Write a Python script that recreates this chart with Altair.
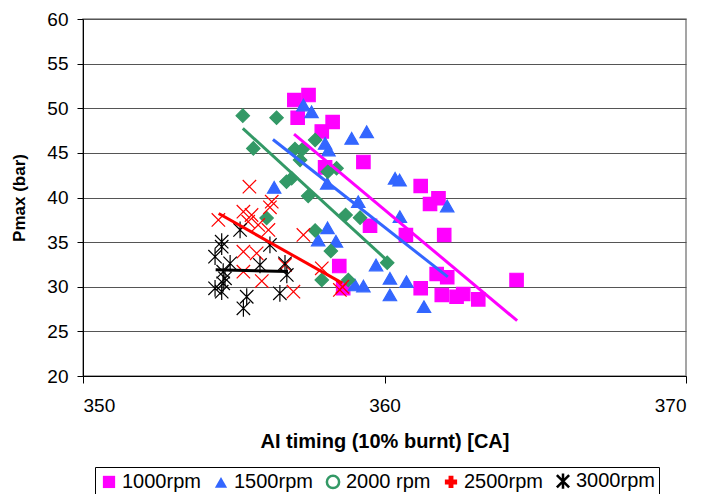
import altair as alt
import pandas as pd

series = ["1000rpm", "1500rpm", "2000 rpm", "2500rpm", "3000rpm"]
colors = ["#FF00FF", "#3366FF", "#339966", "#FF0000", "#000000"]

x1000 = [357.01, 357.48, 357.12, 358.28, 357.92, 359.30, 358.03, 359.52, 361.20, 361.79, 361.51, 360.71,
         361.98, 358.50, 361.73, 362.08, 361.20, 361.90, 362.39, 362.61, 363.11, 364.38, 358.63]
y1000 = [50.92, 51.48, 48.94, 48.46, 47.40, 43.98, 43.38, 36.84, 41.29, 39.91, 39.27, 35.80,
         35.80, 32.32, 31.43, 31.06, 29.83, 29.08, 28.88, 29.19, 28.59, 30.76, 29.83]

x1500 = [357.31, 357.58, 358.91, 359.41, 358.03, 358.14, 356.34, 358.10, 359.13, 360.35, 360.50, 358.11,
         357.80, 358.39, 359.72, 360.18, 360.73, 360.18, 361.31, 359.02, 359.30, 360.51, 362.08]
y1500 = [50.36, 49.60, 46.63, 47.37, 46.07, 45.32, 41.14, 41.59, 39.53, 42.15, 41.95, 36.60,
         35.24, 35.10, 32.44, 30.95, 30.57, 29.08, 27.77, 30.20, 30.08, 37.85, 39.05]

x2000 = [355.30, 356.42, 355.65, 357.03, 357.29, 357.70, 357.20, 356.92, 356.75, 358.12, 358.41, 357.47,
         356.09, 358.71, 359.19, 357.70, 358.22, 357.92, 358.80, 360.09]
y2000 = [49.17, 48.94, 45.50, 45.43, 45.43, 46.44, 44.20, 42.15, 41.77, 42.89, 43.27, 40.17,
         37.70, 38.04, 37.74, 36.30, 34.00, 30.76, 30.76, 32.69]

x2500 = [355.52, 356.26, 356.20, 355.32, 355.59, 355.48, 354.49, 355.81, 356.15, 357.31, 355.32, 355.76,
         355.32, 356.70, 355.93, 356.98, 357.92, 358.52, 358.60]
y2500 = [41.21, 39.53, 38.90, 38.41, 38.04, 37.29, 37.48, 36.92, 36.36, 35.80, 33.93, 33.75,
         31.69, 32.44, 30.64, 29.45, 32.07, 29.64, 30.00]

x3000 = [355.21, 354.60, 354.60, 354.38, 354.88, 356.20, 355.87, 356.70, 356.76, 354.65, 354.71, 354.65,
         354.38, 354.60, 356.53, 355.43, 355.32]
y3000 = [36.36, 35.05, 34.49, 33.37, 32.62, 34.68, 32.44, 32.62, 31.32, 31.69, 30.95, 30.39,
         29.83, 29.45, 29.27, 28.88, 27.59]

# trend line end points
line_x_start = [357.0, 356.3, 355.3, 354.5, 354.4]
line_y_start = [47.1, 46.5, 47.75, 38.2, 31.9]
line_x_end = [364.4, 362.1, 360.2, 358.6, 356.8]
line_y_end = [26.2, 31.1, 32.6, 30.4, 31.7]

X_PATH = "M-1,-1L1,1M-1,1L1,-1"
AST_PATH = "M-1,-1L1,1M-1,1L1,-1M0,-1.25L0,1.25"
data_shapes = ["square", "triangle-up", "diamond", X_PATH, AST_PATH]
data_fills = ["#FF00FF", "#3366FF", "#339966", "transparent", "transparent"]
legend_shapes = ["square", "triangle-up", "circle", "cross", AST_PATH]
legend_fills = ["#FF00FF", "#3366FF", "transparent", "#FF0000", "transparent"]
legend_strokes = ["transparent", "transparent", "#339966", "transparent", "#000000"]

rows = []
for name, xs, ys in zip(series, [x1000, x1500, x2000, x2500, x3000], [y1000, y1500, y2000, y2500, y3000]):
    for a, b in zip(xs, ys):
        rows.append({"series": name, "x": a, "y": b})
pts = pd.DataFrame(rows)

lrows = []
for i, name in enumerate(series):
    lrows.append({"series": name, "x": line_x_start[i], "y": line_y_start[i]})
    lrows.append({"series": name, "x": line_x_end[i], "y": line_y_end[i]})
lines = pd.DataFrame(lrows)

leg = pd.DataFrame({"series": series})

xenc = alt.X("x:Q", scale=alt.Scale(domain=[350, 370], nice=False),
             axis=alt.Axis(values=[350, 360, 370], title="AI timing (10% burnt) [CA]", grid=False,
                           tickSize=7, labelPadding=13, titlePadding=16, labelFontSize=19,
                           titleFontSize=20))
yenc = alt.Y("y:Q", scale=alt.Scale(domain=[20, 60], nice=False),
             axis=alt.Axis(values=list(range(20, 61, 5)), title="Pmax (bar)", grid=True,
                           gridColor="#555555", tickSize=6, labelPadding=9, titlePadding=18,
                           labelFontSize=19, titleFontSize=17))

points = alt.Chart(pts).mark_point(opacity=1, size=180, strokeWidth=1.2).encode(
    x=xenc, y=yenc,
    shape=alt.Shape("series:N", scale=alt.Scale(domain=series, range=data_shapes), legend=None),
    fill=alt.Fill("series:N", scale=alt.Scale(domain=series, range=data_fills), legend=None),
    stroke=alt.Stroke("series:N", scale=alt.Scale(domain=series, range=colors), legend=None),
)

trend = alt.Chart(lines).mark_line(strokeWidth=3).encode(
    x="x:Q", y="y:Q",
    color=alt.Color("series:N", scale=alt.Scale(domain=series, range=colors), legend=None),
    detail="series:N",
)

legend_layer = alt.Chart(leg).mark_point(opacity=1, size=150, strokeWidth=2.5).encode(
    shape=alt.Shape("series:N", scale=alt.Scale(domain=series, range=legend_shapes),
                    legend=alt.Legend(title=None, orient="none", legendX=12, legendY=448,
                                      direction="horizontal", strokeColor="black", padding=4,
                                      labelFontSize=20, labelFont="Liberation Sans", labelColor="black",
                                      columnPadding=8, labelOffset=3, symbolSize=150,
                                      symbolStrokeWidth=2.5, labelLimit=200)),
    fill=alt.Fill("series:N", scale=alt.Scale(domain=series, range=legend_fills)),
    stroke=alt.Stroke("series:N", scale=alt.Scale(domain=series, range=legend_strokes)),
).transform_filter("false")

chart = alt.layer(points, trend, legend_layer).resolve_scale(
    shape="independent", fill="independent", stroke="independent", color="independent"
).properties(
    width=603, height=357,
    autosize=alt.AutoSizeParams(type="none"),
    padding={"left": 75, "top": 11, "right": 25, "bottom": 118},
).configure_axis(
    labelFont="Liberation Sans", titleFont="Liberation Sans", labelColor="black", titleColor="black",
    domainColor="black", tickColor="black", titleFontWeight="bold",
).configure_view(stroke="#888888", strokeWidth=1.5)

chart.save("out.html", embed_options={"renderer": "svg", "actions": False})
